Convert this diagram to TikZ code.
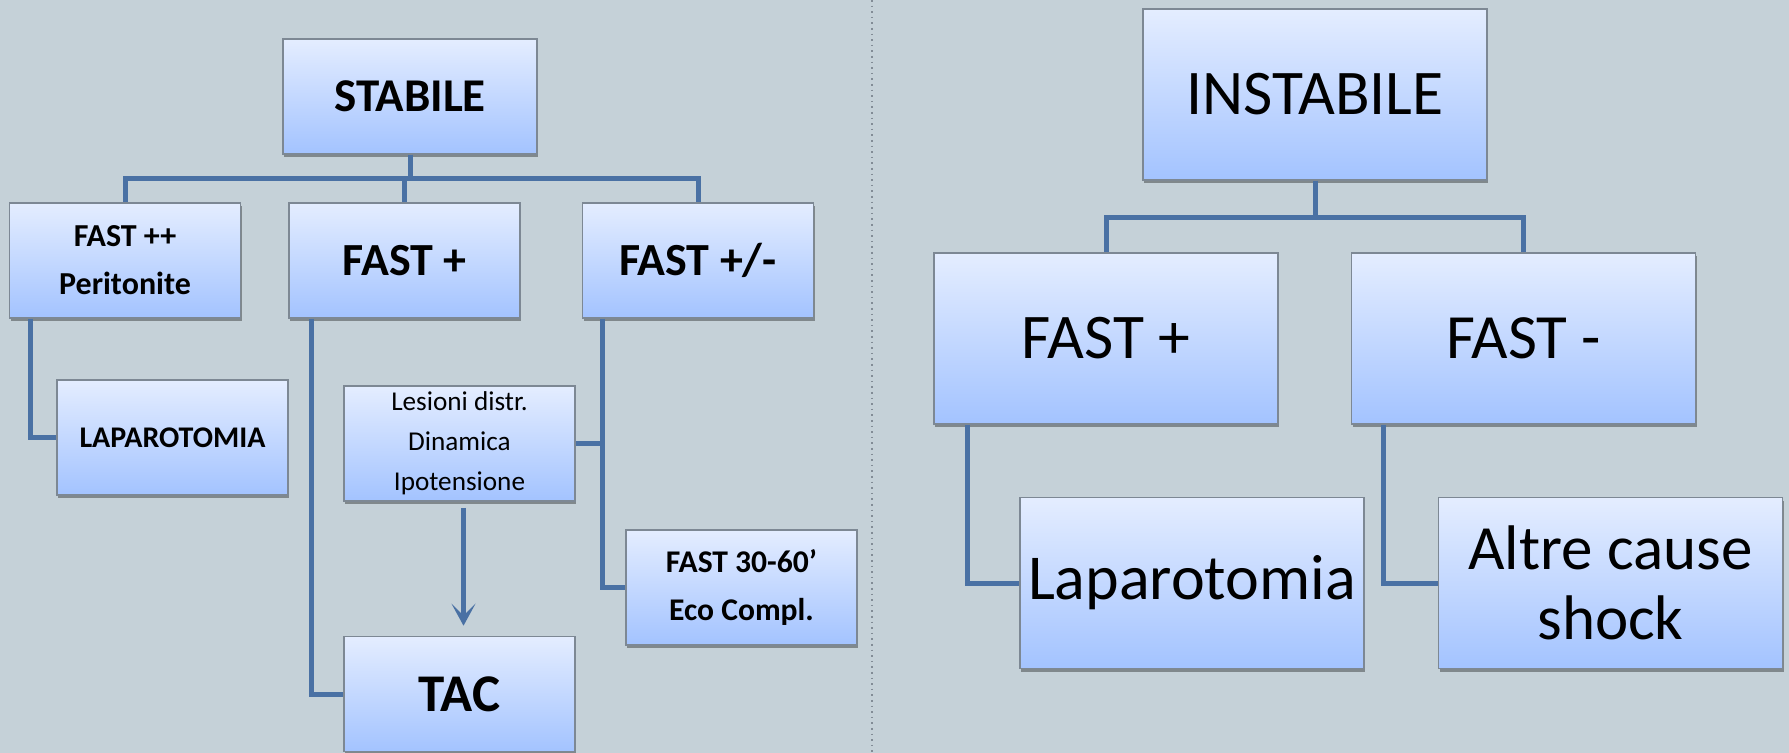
\documentclass[tikz,border=0pt]{standalone}
\usepackage{fontspec}
\setmainfont{Carlito}
\usepackage{tikz}
\usetikzlibrary{
    arrows.meta,
    positioning,
    shadows,
    calc
}
\definecolor{bgcol}{RGB}{197,209,216}
\definecolor{boxtop}{RGB}{228,237,255}
\definecolor{boxbot}{RGB}{163,195,255}
\definecolor{boxline}{RGB}{125,136,148}
\definecolor{linkcol}{RGB}{74,113,164}
\definecolor{divcol}{RGB}{130,140,150}
\tikzset{
    flowbox/.style = {draw=boxline, line width=0.8pt,
      top color=boxtop, bottom color=boxbot,
      inner sep=0pt, align=center,
      drop shadow={shadow xshift=0.6pt, shadow yshift=-1.6pt, fill=black, opacity=0.35}}
  }
\tikzset{
    smallbox/.style = {flowbox, minimum width=115.5pt, minimum height=57.5pt}
  }
\tikzset{
    bigbox/.style = {flowbox, minimum width=172pt, minimum height=85.5pt}
  }
\tikzset{
    link/.style = {draw=linkcol, line width=2.5pt}
  }
\tikzset{
    flowarrow/.tip = {Stealth[length=11pt, width=12pt, inset=6pt]}
  }
\newcommand{\fsz}[2]{\fontsize{#1}{#2}\selectfont}

\begin{document}
\begin{tikzpicture}[x=0.5pt,y=-0.5pt]
				\fill[bgcol] (0,0) rectangle (1789,753);
				\useasboundingbox (0,0) rectangle (1789,753);
				\draw[divcol, line width=0.8pt, dotted] (872,0) -- (872,753);
				% stabile
				\node at (410,96.5) [flowbox, minimum width=127pt, minimum height=57.5pt, font=\fsz{23.5pt}{28pt}\bfseries] (stabile) {STABILE};
				\node at (125,260.5) [smallbox, font=\fsz{16pt}{24pt}\bfseries] (fastpp) {FAST ++\\Peritonite};
				\node at (404.5,260.5) [smallbox, font=\fsz{23pt}{28pt}\bfseries] (fastp) {FAST +};
				\node at (698,260.5) [smallbox, font=\fsz{23pt}{28pt}\bfseries] (fastpm) {FAST +/-};
				\node at (172.5,437.5) [smallbox, font=\fsz{15pt}{20pt}\bfseries] (lapstab) {LAPAROTOMIA};
				\node at (459.5,443.5) [smallbox, font=\fsz{13.6pt}{20pt}] (lesioni) {Lesioni distr.\\Dinamica\\Ipotensione};
				\node at (459.5,694) [smallbox, font=\fsz{26.5pt}{30pt}\bfseries] (tac) {TAC};
				\node at (741.5,587.5) [smallbox, font=\fsz{15.8pt}{24pt}\bfseries] (fastrep) {FAST 30-60’\\Eco Compl.};
				\coordinate (pmline) at ([xshift=10.5pt]fastpm.south west);
				\draw[link] (stabile.south) -- ++(0,24) -| (fastpp.north);
				\draw[link] (stabile.south) -- ++(0,24) -| (fastp.north);
				\draw[link] (stabile.south) -- ++(0,24) -| (fastpm.north);
				\draw[link] ([xshift=11pt]fastpp.south west) |- (lapstab.west);
				\draw[link] ([xshift=11.5pt]fastp.south west) |- (tac.west);
				\draw[link] (pmline) |- (fastrep.west);
				\draw[link] (lesioni.east) -- (lesioni.east -| pmline);
				\draw[link, -flowarrow, shorten <=3pt, shorten >=5pt] ([xshift=2pt]lesioni.south) -- ([xshift=2pt]tac.north);
				% instabile
				\node at (1315,94.5) [bigbox, font=\fsz{31.8pt}{38pt}] (instabile) {INSTABILE};
				\node at (1106,338.5) [bigbox, font=\fsz{31.8pt}{36pt}] (fastpos) {FAST +};
				\node at (1523.5,338.5) [bigbox, font=\fsz{31.5pt}{36pt}] (fastneg) {FAST -};
				\node at (1192,583) [bigbox, font=\fsz{32pt}{36pt}] (lapinst) {Laparotomia};
				\node at (1610.5,583) [bigbox, font=\fsz{31.5pt}{35pt}] (altre) {Altre cause\\shock};
				\draw[link] (instabile.south) -- ++(0,37) -| (fastpos.north);
				\draw[link] (instabile.south) -- ++(0,37) -| (fastneg.north);
				\draw[link] ([xshift=17pt]fastpos.south west) |- (lapinst.west);
				\draw[link] ([xshift=16.5pt]fastneg.south west) |- (altre.west);
			\end{tikzpicture}
\end{document}
